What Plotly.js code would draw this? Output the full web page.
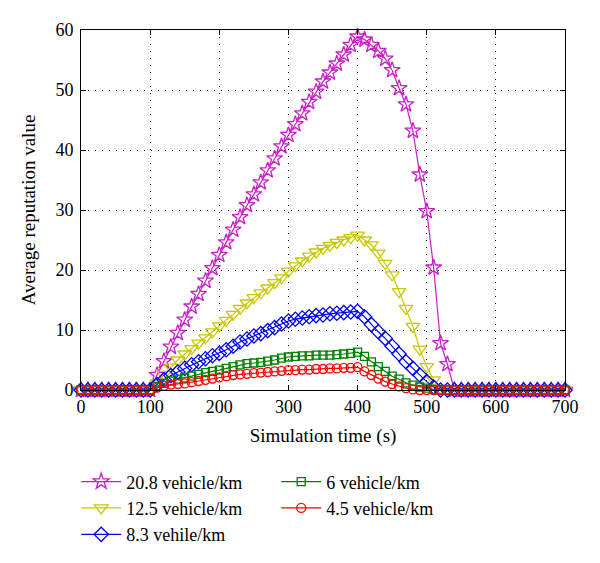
<!DOCTYPE html>
<html>
<head>
<meta charset="utf-8">
<script src="https://cdn.plot.ly/plotly-3.0.1.min.js"></script>
<style>html,body{margin:0;padding:0;background:#fff;}#chart{width:600px;height:563px;}</style>
</head>
<body>
<div id="chart"></div>
<script>
// Simulation time (s)
const time = [0,10,20,30,40,50,60,70,80,90,100,110,120,130,140,150,160,170,180,190,200,210,220,230,240,250,260,270,280,290,300,310,320,330,340,350,360,370,380,390,400,410,420,430,440,450,460,470,480,490,500,510,520,530,540,550,560,570,580,590,600,610,620,630,640,650,660,670,680,690,700];

const seriesNames = ["20.8 vehicle/km", "12.5 vehicle/km", "8.3 vehile/km", "6 vehicle/km", "4.5 vehicle/km"];

const v208 = [0,0,0,0,0,0,0,0,0,0,0,
  2.5,4.8,7.2,9.5,11.7,13.9,16.0,18.2,20.3,22.5,
  24.6,26.7,28.8,30.8,32.6,34.6,36.6,38.6,40.6,42.5,
  44.3,46.1,48.0,49.7,51.4,52.9,54.4,55.9,57.5,58.9,
  58.4,57.5,56.5,55.2,53.3,50.3,47.6,43.2,35.9,29.8,
  20.4,7.8,4.3,
  0,0,0,0,0,0,0,0,0,0,0,0,0,0,0,0,0];

const v125 = [0,0,0,0,0,0,0,0,0,0,0,
  1.2,2.6,3.8,5.0,6.0,6.9,7.8,8.7,9.7,10.7,
  11.6,12.6,13.6,14.5,15.4,16.2,17.0,17.9,18.7,19.8,
  20.7,21.5,22.3,23.0,23.6,24.1,24.6,25.0,25.4,25.8,
  25.0,24.2,22.8,21.1,19.2,16.4,13.6,10.6,6.8,3.9,
  1.7,0.3,
  0,0,0,0,0,0,0,0,0,0,0,0,0,0,0,0,0,0];

const v83 = [0,0,0,0,0,0,0,0,0,0,0,
  0.9,1.7,2.4,3.0,3.6,4.2,4.7,5.2,5.7,6.1,
  6.7,7.3,8.0,8.5,9.0,9.4,9.9,10.4,11.0,11.5,
  11.8,12.0,12.2,12.4,12.5,12.7,12.8,12.9,13.0,13.1,
  12.2,10.9,9.7,8.6,7.3,6.0,4.7,3.6,2.5,1.4,
  0.5,
  0,0,0,0,0,0,0,0,0,0,0,0,0,0,0,0,0,0,0];

const v6 = [0,0,0,0,0,0,0,0,0,0,0,
  0.6,1.1,1.5,1.8,2.0,2.3,2.6,2.9,3.1,3.3,
  3.6,3.9,4.2,4.4,4.5,4.6,4.8,5.0,5.3,5.5,
  5.6,5.7,5.7,5.8,5.8,5.8,5.9,6.0,6.1,6.3,
  5.6,4.7,3.9,3.1,2.3,1.8,1.2,0.8,0.5,0.3,
  0.1,
  0,0,0,0,0,0,0,0,0,0,0,0,0,0,0,0,0,0,0];

const v45 = [0,0,0,0,0,0,0,0,0,0,0,
  0.4,0.7,0.9,1.0,1.1,1.3,1.5,1.7,1.9,2.1,
  2.3,2.5,2.6,2.7,2.8,2.9,3.0,3.1,3.2,3.3,
  3.3,3.4,3.4,3.5,3.5,3.6,3.6,3.7,3.7,3.8,
  3.1,2.5,1.9,1.4,1.0,0.6,0.3,0.1,
  0,0,0,0,0,0,0,0,0,0,0,0,0,0,0,0,0,0,0,0,0,0];

const xTicks = [0,100,200,300,400,500,600,700];
const yTicks = [0,10,20,30,40,50,60];

const FONT = "Liberation Serif";

function mk(y, name, color, symbol, size, rank) {
  return {
    x: time, y: y, name: name, type: "scatter", mode: "lines+markers",
    line: {color: color, width: 1.2},
    marker: {symbol: symbol, size: size, color: color, line: {color: color, width: 1.3}},
    cliponaxis: false, legendrank: rank
  };
}

const data = [
  mk(v208, seriesNames[0], "#c81ec8", "star-open", 12, 1),
  mk(v125, seriesNames[1], "#c8c800", "triangle-down-open", 12, 3),
  mk(v83,  seriesNames[2], "#0000ff", "diamond-open", 11, 5),
  mk(v6,   seriesNames[3], "#008000", "square-open", 8, 2),
  mk(v45,  seriesNames[4], "#ff0000", "circle-open", 9, 4)
];

const gridCommon = {
  showgrid: true, gridcolor: "#000", gridwidth: 1, griddash: "1px,6px",
  showline: true, linecolor: "#000", linewidth: 1, mirror: "ticks",
  ticks: "inside", ticklen: 5, tickcolor: "#000",
  zeroline: false,
  tickfont: {family: FONT, size: 18, color: "#000"}
};

const layout = {
  width: 600, height: 563,
  margin: {l: 81, r: 35, t: 30, b: 173},
  paper_bgcolor: "#fff", plot_bgcolor: "#fff",
  font: {family: FONT, size: 18, color: "#000"},
  xaxis: Object.assign({}, gridCommon, {
    range: [0, 700], tickvals: xTicks, ticktext: xTicks.map(String),
    title: {text: "Simulation time (s)", font: {family: FONT, size: 19, color: "#000"}, standoff: 13},
    automargin: false
  }),
  yaxis: Object.assign({}, gridCommon, {
    range: [0, 60], tickvals: yTicks, ticktext: yTicks.map(String),
    ticklabelstandoff: 3,
    title: {text: "Average reputation value", font: {family: FONT, size: 19, color: "#000"}, standoff: 14},
    automargin: false
  }),
  showlegend: true,
  legend: {
    orientation: "h",
    xref: "container", x: 0.127, xanchor: "left",
    yref: "container", y: 0.177, yanchor: "top",
    entrywidth: 145, itemwidth: 40,
    font: {family: FONT, size: 18, color: "#000"},
    bgcolor: "rgba(0,0,0,0)", traceorder: "normal"
  }
};

Plotly.newPlot("chart", data, layout, {displayModeBar: false, staticPlot: true});
</script>
</body>
</html>
